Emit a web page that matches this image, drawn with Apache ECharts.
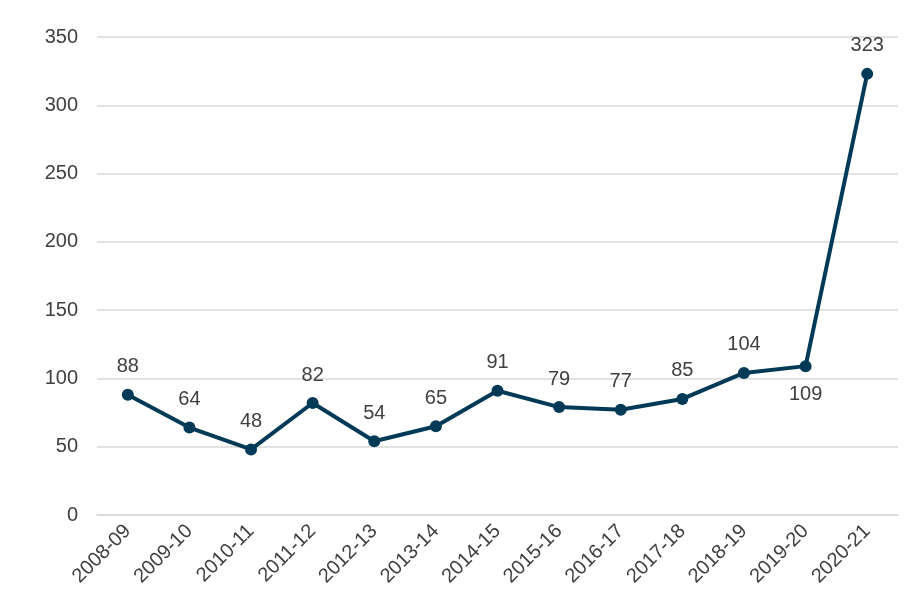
<!DOCTYPE html>
<html>
<head>
<meta charset="utf-8">
<script src="https://cdn.jsdelivr.net/npm/echarts@6/dist/echarts.min.js"></script>
<style>
  html, body { margin: 0; padding: 0; background: #fff; }
  #chart { width: 918px; height: 609px; }
</style>
</head>
<body>
<div id="chart"></div>
<script>
const years = ['2008-09', '2009-10', '2010-11', '2011-12', '2012-13', '2013-14', '2014-15',
  '2015-16', '2016-17', '2017-18', '2018-19', '2019-20', '2020-21'];
const counts = [88, 64, 48, 82, 54, 65, 91, 79, 77, 85, 104, 109, 323];
const yTicks = { min: 0, max: 350, step: 50 };
// points whose label sits under the marker
const labelsBelow = ['2019-20'];

const chart = echarts.init(document.getElementById('chart'));
const textColor = '#404040';
const font = 'Liberation Sans, Arial, sans-serif';

chart.setOption({
  animation: false,
  grid: { left: 97, right: 20, top: 37, bottom: 94 },
  xAxis: {
    type: 'category',
    data: years,
    boundaryGap: true,
    axisLine: { show: true, lineStyle: { color: '#d9d9d9', width: 1.5 } },
    axisTick: { show: false },
    axisLabel: {
      rotate: 45,
      color: textColor,
      fontFamily: font,
      fontSize: 20,
      margin: 13,
      interval: 0
    }
  },
  yAxis: {
    type: 'value',
    min: yTicks.min,
    max: yTicks.max,
    interval: yTicks.step,
    axisLine: { show: false },
    axisTick: { show: false },
    splitLine: { lineStyle: { color: '#d9d9d9', width: 1.5 } },
    axisLabel: { color: textColor, fontFamily: font, fontSize: 20, margin: 19 }
  },
  series: [{
    type: 'line',
    data: counts.map((v, i) => ({
      value: v,
      label: { position: labelsBelow.includes(years[i]) ? 'bottom' : 'top' }
    })),
    symbol: 'circle',
    symbolSize: 12,
    lineStyle: { color: '#003a57', width: 4 },
    itemStyle: { color: '#003a57' },
    label: {
      show: true,
      color: textColor,
      fontFamily: font,
      fontSize: 20,
      distance: 12
    }
  }]
});
</script>
</body>
</html>
